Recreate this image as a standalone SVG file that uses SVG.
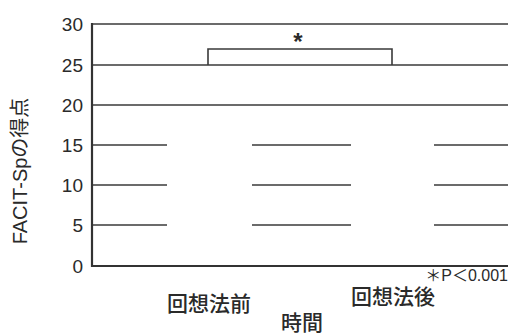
<svg xmlns="http://www.w3.org/2000/svg" width="508" height="336" viewBox="0 0 508 336">
<style>
.grid{stroke:#3a3a3a;stroke-width:1.6;fill:none}
.axis{stroke:#333;stroke-width:2.2;fill:none}
.t{font-family:"Liberation Sans","Noto Sans CJK JP",sans-serif;fill:#2a2a2a}
.tick{font-size:19px;text-anchor:end}
.cjk{font-family:"Noto Sans CJK JP","Liberation Sans",sans-serif;fill:#2a2a2a;font-size:21px;text-anchor:middle;font-weight:500}
</style>
<rect width="508" height="336" fill="#fff"/>
<g id="gridlines">
<line class="grid" x1="92" y1="24" x2="508" y2="24"/>
<line class="grid" x1="92" y1="65" x2="508" y2="65"/>
<line class="grid" x1="92" y1="105" x2="508" y2="105"/>
<line class="grid" x1="92" y1="145" x2="167" y2="145"/>
<line class="grid" x1="252" y1="145" x2="351" y2="145"/>
<line class="grid" x1="434" y1="145" x2="508" y2="145"/>
<line class="grid" x1="92" y1="185" x2="167" y2="185"/>
<line class="grid" x1="252" y1="185" x2="351" y2="185"/>
<line class="grid" x1="434" y1="185" x2="508" y2="185"/>
<line class="grid" x1="92" y1="225" x2="167" y2="225"/>
<line class="grid" x1="252" y1="225" x2="351" y2="225"/>
<line class="grid" x1="434" y1="225" x2="508" y2="225"/>
</g>
<g id="bar-before"><rect x="167" y="128" width="85" height="138" fill="#fff"/></g>
<g id="bar-after"><rect x="351" y="122" width="83" height="144" fill="#fff"/></g>
<g id="axes">
<line class="axis" x1="92" y1="23" x2="92" y2="267"/>
<line class="axis" x1="91" y1="266" x2="508" y2="266"/>
</g>
<g id="connectors">
<polyline class="grid" points="208,65 208,49 392,49 392,65"/>
</g>
<g id="significance"><text class="t" x="298" y="50" font-size="24" font-weight="bold" text-anchor="middle">*</text></g>
<g id="yticks" class="t">
<text class="tick" x="83" y="31">30</text>
<text class="tick" x="83" y="72">25</text>
<text class="tick" x="83" y="112">20</text>
<text class="tick" x="83" y="152">15</text>
<text class="tick" x="83" y="192">10</text>
<text class="tick" x="83" y="232">5</text>
<text class="tick" x="83" y="273">0</text>
</g>
<g id="ylabel"><text class="t" x="0" y="0" font-size="20" text-anchor="middle" transform="translate(27,171) rotate(-90)">FACIT-Spの得点</text></g>
<g id="xlabels">
<text class="cjk" x="209" y="311">回想法前</text>
<text class="cjk" x="393" y="304">回想法後</text>
<text class="cjk" x="302" y="330">時間</text>
</g>
<g id="note"><text class="t" x="508" y="281" font-size="16" text-anchor="end">＊P＜0.001</text></g>
</svg>
